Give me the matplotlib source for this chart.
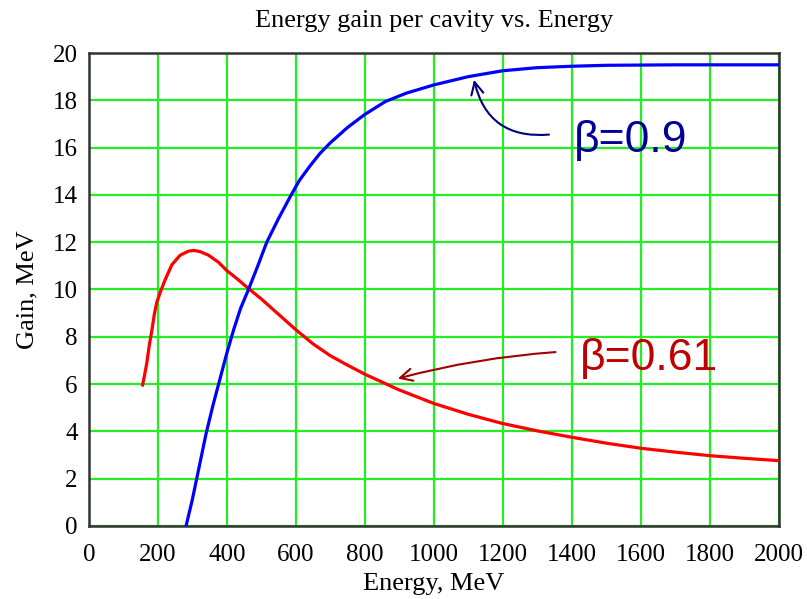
import matplotlib
matplotlib.use("Agg")
import matplotlib.pyplot as plt
import numpy as np

# ---- data ----
title = "Energy gain per cavity vs. Energy"
xlabel = "Energy, MeV"
ylabel = "Gain, MeV"

red_energy = [156, 162, 168, 175, 183, 190, 197, 209, 221, 241, 265, 289, 305,
              323, 347, 376, 400, 430, 463, 500, 550, 600, 650, 700, 750, 801,
              900, 1000, 1100, 1197, 1300, 1400, 1500, 1603, 1700, 1801, 1900,
              2000]
red_gain = [5.96, 6.4, 6.87, 7.6, 8.28, 8.95, 9.45, 9.95, 10.4, 11.05, 11.45,
            11.62, 11.65, 11.6, 11.45, 11.15, 10.8, 10.45, 10.04, 9.6, 8.95,
            8.3, 7.7, 7.2, 6.8, 6.41, 5.75, 5.18, 4.72, 4.34, 4.02, 3.75, 3.50,
            3.28, 3.12, 2.97, 2.86, 2.76]

blue_energy = [282, 300, 320, 340, 360, 380, 400, 420, 440, 463, 490, 516, 550,
               583, 610, 640, 670, 700, 750, 800, 860, 920, 1000, 1100, 1200,
               1300, 1400, 1500, 1700, 2000]
blue_gain = [0.0, 1.1, 2.5, 3.9, 5.1, 6.2, 7.3, 8.3, 9.2, 10.0, 11.0, 12.0,
             13.0, 13.9, 14.6, 15.2, 15.75, 16.2, 16.85, 17.4, 17.95, 18.3,
             18.65, 19.0, 19.25, 19.38, 19.44, 19.48, 19.5, 19.5]

xticks = [0, 200, 400, 600, 800, 1000, 1200, 1400, 1600, 1800, 2000]
yticks = [0, 2, 4, 6, 8, 10, 12, 14, 16, 18, 20]

label_09 = "\u03b2=0.9"
label_061 = "\u03b2=0.61"

# ---- figure ----
fig = plt.figure(figsize=(8.07, 5.99), dpi=100)
ax = fig.add_axes([0.110, 0.122, 0.855, 0.7895])

serif = "Liberation Serif"
ax.plot(red_energy, red_gain, color="#ff0000", lw=2.3, zorder=3)
ax.plot(blue_energy, blue_gain, color="#0000ff", lw=2.3, zorder=3)

ax.set_xlim(0, 2000)
ax.set_ylim(0, 20)
ax.set_xticks(xticks)
ax.set_yticks(yticks)
ax.set_xticklabels([str(v) for v in xticks], fontfamily=serif, fontsize=18)
ax.set_yticklabels([str(v) for v in yticks], fontfamily=serif, fontsize=18)
ax.tick_params(axis="x", length=0, pad=13)
ax.tick_params(axis="y", length=0, pad=8)
ax.grid(True, color="#22ee22", lw=1.6, zorder=1)
ax.set_axisbelow(True)
for s in ax.spines.values():
    s.set_color("#333333")
    s.set_linewidth(1.8)

ax.set_title(title, fontfamily=serif, fontsize=19, pad=19)
ax.set_xlabel(xlabel, fontfamily=serif, fontsize=19, labelpad=5)
ax.set_ylabel(ylabel, fontfamily=serif, fontsize=19, labelpad=10)

# annotations
ax.text(1407, 15.8, label_09, color="#000099", fontsize=32,
        fontfamily="Liberation Sans", ha="left", va="baseline", zorder=5)
ax.annotate("", xy=(1115, 18.98), xytext=(1342, 16.56),
            arrowprops=dict(arrowstyle="->", color="#000080", lw=1.5,
                            mutation_scale=22,
                            connectionstyle="arc3,rad=-0.45"), zorder=5)

ax.text(1424, 6.59, label_061, color="#c00000", fontsize=32,
        fontfamily="Liberation Sans", ha="left", va="baseline", zorder=5)
ax.annotate("", xy=(888, 6.2), xytext=(1361, 7.36),
            arrowprops=dict(arrowstyle="->", color="#a00000", lw=1.5,
                            mutation_scale=22,
                            connectionstyle="arc3,rad=0.05"), zorder=5)

fig.savefig("out.png", dpi=100)
